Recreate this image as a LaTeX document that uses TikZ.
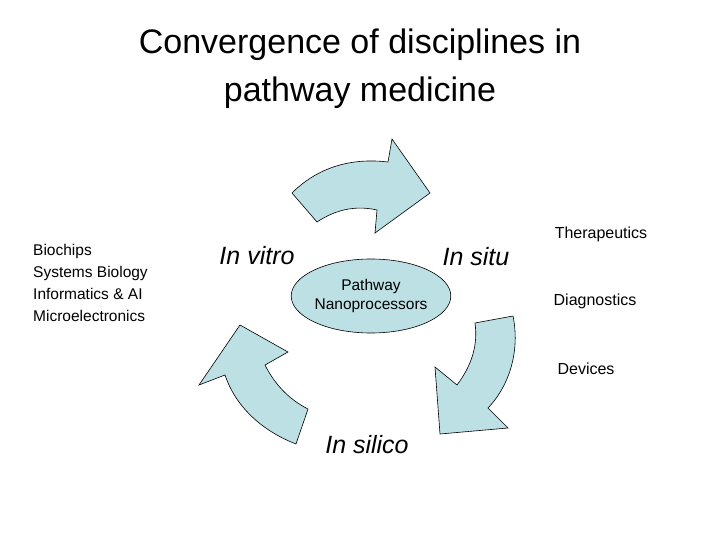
\documentclass[tikz,border=0pt]{standalone}
\usepackage{fontspec}
\setmainfont{Liberation Sans}
\usetikzlibrary{shapes.geometric}
\begin{document}
\begin{tikzpicture}[x=1pt,y=-1pt,
 shp/.style={draw=black,fill=arrowc,line width=0.6pt},
 lbl/.style={font=\fontsize{16}{19}\selectfont,inner sep=0pt},
 big/.style={font=\fontsize{25}{30}\selectfont\itshape,inner sep=0pt}]
\definecolor{arrowc}{HTML}{BCE0E4}
\useasboundingbox (0,0) rectangle (720,540);
\node[font=\fontsize{34}{48}\selectfont,align=center] (title) at (360,69) {Convergence of disciplines in\\pathway medicine};
\node[lbl,anchor=west,align=left,font=\fontsize{15.5}{22}\selectfont] (list) at (33,283) {Biochips\\Systems Biology\\Informatics \& AI\\Microelectronics};
\draw[shp] (292,193) .. controls (320,165) and (355,158) .. (388,162) -- (392,139) -- (430,193) -- (375,233) -- (377,210) .. controls (355,205) and (335,210) .. (317,222) -- cycle;
\draw[shp] (513,316) .. controls (520,350) and (510,385) .. (488,408) -- (508,428) -- (440,434) -- (435,367) -- (457,385) .. controls (472,365) and (478,345) .. (475,323) -- cycle;
\draw[shp] (296,444) .. controls (260,430) and (235,405) .. (225,375) -- (199,385) -- (240,325) -- (288,352) -- (265,365) .. controls (275,385) and (290,400) .. (308,409) -- cycle;
\node[shp,ellipse,minimum width=146,minimum height=74,inner sep=0pt,align=center,font=\fontsize{15.5}{19}\selectfont] (core) at (371,296) {Pathway\\Nanoprocessors};
\node[big] (vitro) at (257,256) {In vitro};
\node[big] (situ) at (476,257) {In situ};
\node[big] (silico) at (367,445) {In silico};
\node[lbl] (ther) at (601,234) {Therapeutics};
\node[lbl] (diag) at (595,301) {Diagnostics};
\node[lbl] (dev) at (586,369) {Devices};
\end{tikzpicture}
\end{document}
